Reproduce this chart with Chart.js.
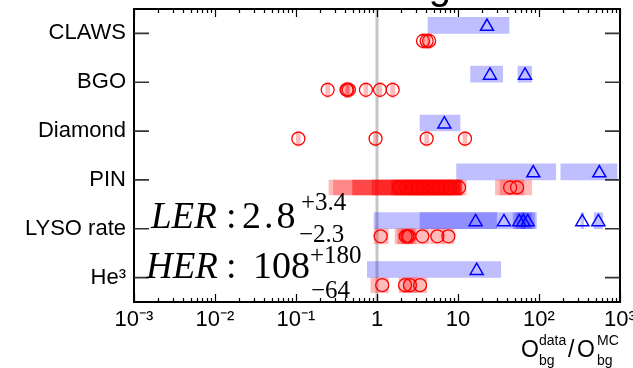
<!DOCTYPE html>
<html>
<head>
<meta charset="utf-8">
<script src="https://cdn.jsdelivr.net/npm/chart.js@4.4.1/dist/chart.umd.min.js"></script>
<style>
  html, body { margin: 0; padding: 0; background: #fff; overflow: hidden; }
  canvas { display: block; }
</style>
</head>
<body>
<canvas id="ratioChart" width="633" height="368"></canvas>
<script>
// detector categories, bottom to top
const categories = ['He³', 'LYSO rate', 'PIN', 'Diamond', 'BGO', 'CLAWS'];

// LER (red circles): category index, data/MC ratio, band low/high
const lerCat   = [5, 5, 5,   4, 4, 4, 4, 4, 4, 4,   3, 3, 3, 3,
                  2, 2, 2, 2, 2, 2, 2, 2, 2, 2, 2, 2, 2,
                  1, 1, 1, 1, 1, 1, 1,   0, 0, 0, 0];
const lerRatio = [3.7, 4.1, 4.4,   0.246, 0.42, 0.43, 0.45, 0.73, 1.09, 1.56,   0.107, 0.96, 4.1, 12.2,
                  1.87, 2.28, 2.78, 3.21, 3.7, 4.26, 4.91, 5.66, 6.53, 7.96, 10.3, 44, 53.6,
                  1.11, 2.26, 2.37, 2.48, 3.63, 5.56, 7.61,   1.16, 2.22, 2.55, 3.4];
const lerLow   = [3.55, 3.85, 4.15,   0.232, 0.395, 0.405, 0.42, 0.69, 1.03, 1.47,   0.101, 0.905, 3.87, 11.5,
                  0.255, 0.29, 0.5, 0.5, 0.87, 0.87, 1.5, 1.5, 1.6, 2.0, 2.5, 29, 33,
                  0.92, 1.67, 1.8, 2.0, 3.0, 4.6, 6.5,   0.84, 1.87, 2.1, 2.8];
const lerHigh  = [3.9, 4.35, 4.65,   0.261, 0.445, 0.46, 0.48, 0.77, 1.15, 1.65,   0.113, 1.02, 4.35, 12.9,
                  10.5, 9, 11, 10, 11, 10.5, 11, 10.7, 11, 11.5, 12.6, 65, 81,
                  1.37, 2.8, 2.95, 3.0, 4.4, 6.7, 8.9,   1.38, 2.7, 3.1, 4.1];

// HER (blue triangles): category index, data/MC ratio, band low/high
const herCat   = [5,   4, 4,   3,   2, 2,   1, 1, 1, 1, 1, 1, 1,   0];
const herRatio = [22.8,   24.8, 67.2,   6.78,   85, 556,   16.5, 36.9, 57, 64, 72.5, 342, 540,   17];
const herLow   = [4.26,   14.3, 55,   3.4,   9.6, 186,   0.92, 3.4, 48, 52, 60, 330, 480,   0.76];
const herHigh  = [42.7,   35.6, 81,   10.6,   161, 918,   30, 93, 68, 80, 88, 355, 610,   33.7];

// x axis
const xTickValues = [1e-3, 1e-2, 1e-1, 1, 10, 1e2, 1e3];
const xTickLabels = ['10⁻³', '10⁻²', '10⁻¹', '1', '10', '10²', '10³'];

// combined fit results written on the plot
const fitBeams   = ['LER', 'HER'];
const fitCentral = ['2.8', '108'];
const fitUp      = ['+3.4', '+180'];
const fitDown    = ['−2.3', '−64'];

const sans = '"Liberation Sans", Arial, sans-serif';
const serif = '"Liberation Serif", "Times New Roman", serif';

function noPad(s) {
  s.paddingTop = 0; s.paddingBottom = 0; s.paddingLeft = 0; s.paddingRight = 0;
}

const decor = {
  id: 'decor',
  beforeDatasetsDraw(chart) {
    const { ctx, chartArea: a, scales: { x } } = chart;
    const px = x.getPixelForValue(1);
    ctx.save();
    ctx.strokeStyle = '#c6c6c6';
    ctx.lineWidth = 3;
    ctx.beginPath();
    ctx.moveTo(px, a.top);
    ctx.lineTo(px, a.bottom);
    ctx.stroke();
    ctx.restore();
  },
  afterDraw(chart) {
    const { ctx, chartArea: a, scales: { x, y } } = chart;
    ctx.save();

    // cut-off title at the very top
    ctx.fillStyle = '#000';
    ctx.font = '40px ' + sans;
    ctx.textAlign = 'left';
    ctx.textBaseline = 'alphabetic';
    ctx.fillText('Beam-gas', 311, -1);

    // frame
    ctx.strokeStyle = '#000';
    ctx.lineWidth = 2;
    ctx.strokeRect(a.left, a.top, a.right - a.left, a.bottom - a.top);

    // inward ticks, ROOT style
    ctx.lineWidth = 1.2;
    x.ticks.forEach(t => {
      const px = Math.round(x.getPixelForValue(t.value)) + 0.5;
      const e = Math.log10(t.value);
      const len = Math.abs(e - Math.round(e)) < 1e-6 ? 8 : 4;
      ctx.beginPath();
      ctx.moveTo(px, a.bottom); ctx.lineTo(px, a.bottom - len);
      ctx.moveTo(px, a.top); ctx.lineTo(px, a.top + len);
      ctx.stroke();
    });
    ctx.strokeStyle = '#333';
    ctx.lineWidth = 1.6;
    y.ticks.forEach(t => {
      const py = y.getPixelForValue(t.value);
      ctx.beginPath();
      ctx.moveTo(a.left, py); ctx.lineTo(a.left + 15, py);
      ctx.moveTo(a.right, py); ctx.lineTo(a.right - 15, py);
      ctx.stroke();
    });

    // x axis title O_bg^data / O_bg^MC
    ctx.fillStyle = '#000';
    ctx.font = '23px ' + sans;
    ctx.fillText('O', 521, 357);
    ctx.fillText('/', 568, 357);
    ctx.fillText('O', 577, 357);
    ctx.font = '14px ' + sans;
    ctx.fillText('data', 539, 345);
    ctx.fillText('bg', 539, 365);
    ctx.fillText('MC', 597, 345);
    ctx.fillText('bg', 597, 365);

    // fit results
    const rows = [
      { x: 151, base: 228, up: 210, down: 242, colon: 226, num: 242, gap: '3px', sup: 301, sub: 299 },
      { x: 146, base: 278, up: 263, down: 298, colon: 226, num: 253, gap: '0px', sup: 310, sub: 311 }
    ];
    rows.forEach((r, i) => {
      ctx.font = 'italic 37px ' + serif;
      ctx.letterSpacing = '0px';
      ctx.fillText(fitBeams[i], r.x, r.base);
      ctx.font = '38px ' + serif;
      ctx.fillText(':', r.colon, r.base);
      ctx.letterSpacing = r.gap;
      ctx.fillText(fitCentral[i], r.num, r.base);
      ctx.letterSpacing = '0px';
      ctx.font = '25px ' + serif;
      ctx.fillText(fitUp[i], r.sup, r.up);
      ctx.fillText(fitDown[i], r.sub, r.down);
    });
    ctx.restore();
  }
};

new Chart(document.getElementById('ratioChart'), {
  type: 'scatter',
  data: {
    datasets: [
      {
        type: 'bar',
        indexAxis: 'y',
        data: herCat.map((c, i) => ({ y: c + 0.5 + 0.165, x: [herLow[i], herHigh[i]] })),
        backgroundColor: 'rgba(0,0,255,0.25)',
        borderWidth: 0,
        barThickness: 16,
        grouped: false,
        order: 4
      },
      {
        type: 'bar',
        indexAxis: 'y',
        data: lerCat.map((c, i) => ({ y: c + 0.5 - 0.155, x: [lerLow[i], lerHigh[i]] })),
        backgroundColor: 'rgba(255,0,0,0.27)',
        borderWidth: 0,
        barThickness: 15,
        grouped: false,
        order: 3
      },
      {
        data: herCat.map((c, i) => ({ x: herRatio[i], y: c + 0.5 + 0.14 })),
        pointStyle: 'triangle',
        pointRadius: 7.5,
        borderColor: '#0000ff',
        backgroundColor: 'rgba(0,0,0,0)',
        borderWidth: 1.5,
        order: 2
      },
      {
        data: lerCat.map((c, i) => ({ x: lerRatio[i], y: c + 0.5 - 0.155 })),
        pointStyle: 'circle',
        pointRadius: 6.5,
        borderColor: '#ff0000',
        backgroundColor: 'rgba(0,0,0,0)',
        borderWidth: 1.3,
        order: 1
      }
    ]
  },
  options: {
    responsive: false,
    devicePixelRatio: 1,
    animation: false,
    events: [],
    layout: { padding: { top: 9, right: 13, left: 0, bottom: 0 }, autoPadding: false },
    plugins: { legend: { display: false }, tooltip: { enabled: false } },
    scales: {
      x: {
        type: 'logarithmic',
        min: 1e-3,
        max: 1e3,
        offset: false,
        grid: { display: false, drawTicks: false },
        border: { display: false },
        afterFit: s => { s.height = 66; noPad(s); },
        afterBuildTicks: s => {
          const t = [];
          for (let e = -3; e < 3; e++) {
            for (let m = 1; m < 10; m++) t.push({ value: m * Math.pow(10, e) });
          }
          t.push({ value: 1e3 });
          s.ticks = t;
        },
        ticks: {
          autoSkip: false,
          maxRotation: 0,
          padding: 5,
          color: '#000',
          font: { family: sans, size: 22 },
          callback: v => {
            const k = xTickValues.findIndex(p => Math.abs(Math.log10(v) - Math.log10(p)) < 1e-6);
            return k < 0 ? '' : xTickLabels[k];
          }
        }
      },
      y: {
        type: 'linear',
        min: 0,
        max: 6,
        offset: false,
        grid: { display: false, drawTicks: false },
        border: { display: false },
        afterFit: s => { s.width = 134; noPad(s); },
        afterBuildTicks: s => { s.ticks = categories.map((c, i) => ({ value: i + 0.5 })); },
        ticks: {
          autoSkip: false,
          padding: 8,
          color: '#000',
          font: { family: sans, size: 22 },
          callback: (v, i) => categories[i]
        }
      }
    }
  },
  plugins: [decor]
});
</script>
</body>
</html>
